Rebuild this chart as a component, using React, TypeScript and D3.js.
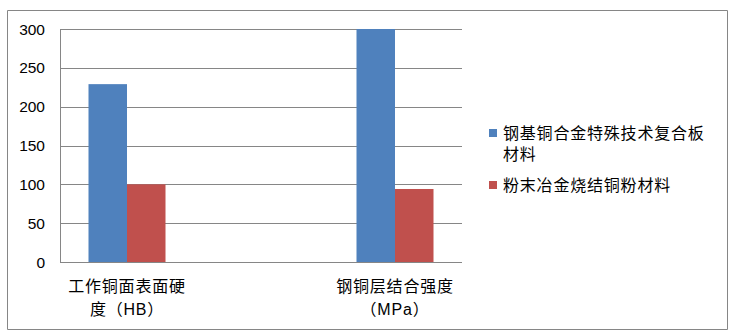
import React from "react";
import * as d3 from "d3";

const categories = ["工作铜面表面硬度（HB）", "", "钢铜层结合强度（MPa）"];
const categoryLines = [["工作铜面表面硬", "度（HB）"], [], ["钢铜层结合强度", "（MPa）"]];
const seriesNames = ["钢基铜合金特殊技术复合板材料", "粉末冶金烧结铜粉材料"];
const legendLines = [["钢基铜合金特殊技术复合板", "材料"], ["粉末冶金烧结铜粉材料"]];
const seriesA = [229, null, 300];
const seriesB = [100, null, 94];
const yTicks = [0, 50, 100, 150, 200, 250, 300];
const colors = ["#4F81BD", "#C0504D"];

const W = 735, H = 335;
const plot = { left: 60, right: 462, top: 29, bottom: 262 };
const font = "'Liberation Sans', 'Noto Sans CJK SC', sans-serif";

export default function App() {
  const x = d3.scaleBand<string>().domain(categories.map((c, i) => String(i))).range([plot.left, plot.right]);
  const y = d3.scaleLinear().domain([0, 300]).range([plot.bottom, plot.top]);
  const barW = 38.5;
  const series = [seriesA, seriesB];
  const grid = "#868686";
  return (
    <div style={{ position: "absolute", left: 0, top: 0, width: W, height: H, overflow: "hidden" }}>
      <svg width={W} height={H} style={{ display: "block" }}>
        <rect x={0} y={0} width={W} height={H} fill="#fff" />
        <line x1={7.5} x2={727.5} y1={10.5} y2={10.5} stroke={grid} />
        <line x1={7.5} x2={727.5} y1={329.5} y2={329.5} stroke={grid} />
        <line x1={7.5} x2={7.5} y1={10.5} y2={329.5} stroke={grid} />
        <line x1={727.5} x2={727.5} y1={10.5} y2={329.5} stroke={grid} />
        {yTicks.map((t) => (
          <g key={t}>
            <line x1={plot.left} x2={plot.right} y1={Math.round(y(t)) + 0.5} y2={Math.round(y(t)) + 0.5} stroke={grid} strokeWidth={1} />
            <text x={45} y={y(t)} dy="0.36em" textAnchor="end" fontFamily={font} fontSize={15.5} fill="#000">{t}</text>
          </g>
        ))}
        <line x1={plot.left + 0.5} x2={plot.left + 0.5} y1={plot.top} y2={plot.bottom + 0.5} stroke={grid} />
        {series.map((s, si) =>
          s.map((v, ci) =>
            v == null ? null : (
              <rect key={si + "-" + ci}
                x={(x(String(ci)) as number) + x.bandwidth() / 2 - barW + si * barW}
                y={y(v)} width={barW} height={plot.bottom - y(v)} fill={colors[si]} />
            )
          )
        )}
        {categoryLines.map((lines, ci) =>
          lines.map((ln, li) => (
            <text key={ci + "-" + li} x={(x(String(ci)) as number) + x.bandwidth() / 2} y={286 + li * 23}
              dy="0.36em" textAnchor="middle" fontFamily={font} fontSize={16} letterSpacing={0.8} fill="#000">{ln}</text>
          ))
        )}
        {legendLines.map((lines, si) => {
          const top = si === 0 ? 133 : 185;
          return (
            <g key={si}>
              <rect x={489} y={top - 4} width={8} height={8} fill={colors[si]} />
              {lines.map((ln, li) => (
                <text key={li} x={503} y={top + li * 21.5} dy="0.36em" fontFamily={font} fontSize={16} letterSpacing={0.8} fill="#000">{ln}</text>
              ))}
            </g>
          );
        })}
      </svg>
    </div>
  );
}
